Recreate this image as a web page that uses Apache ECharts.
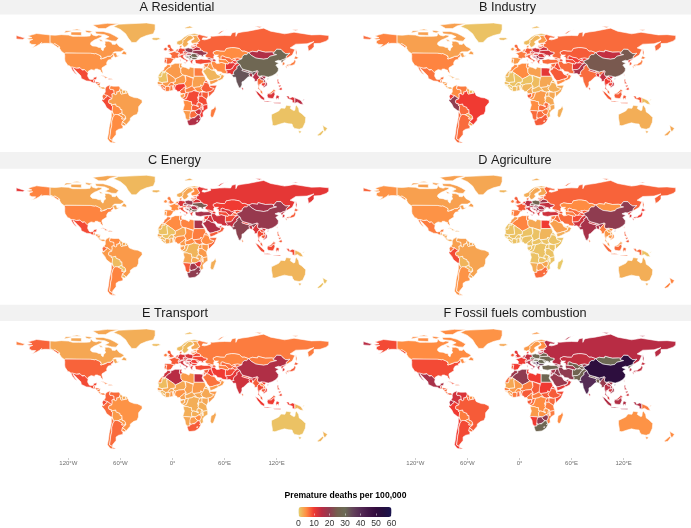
<!DOCTYPE html>
<html><head><meta charset="utf-8">
<style>html,body{margin:0;padding:0;background:#fff}#c{width:691px;height:528px}</style>
<script src="https://cdn.jsdelivr.net/npm/echarts@6/dist/echarts.min.js"></script>
</head><body><div id="c"></div>
<script>
// ---------- chart values (premature deaths per 100,000) ----------
const countries = [
 // North & Central America
 'USA','Canada','Greenland','Mexico','Guatemala','Belize','Honduras','El Salvador','Nicaragua','Costa Rica','Panama','Cuba','Haiti','Dominican Rep.','Jamaica',
 // South America
 'Colombia','Venezuela','Guyana','Suriname','French Guiana','Ecuador','Peru','Bolivia','Chile','Argentina','Paraguay','Uruguay','Brazil',
 // Western & Northern Europe
 'Iceland','Ireland','UK','Portugal','Spain','France','Belgium','Netherlands','Germany','Switzerland','Italy','Austria','Denmark','Norway','Sweden','Finland',
 // Eastern Europe
 'Czechia','Slovakia','Poland','Hungary','Slovenia','Croatia','Bosnia','Serbia','Montenegro','Albania','N. Macedonia','Greece','Bulgaria','Romania','Moldova','Ukraine','Belarus','Lithuania','Latvia','Estonia',
 // Russia & Central Asia
 'Russia','Kazakhstan','Uzbekistan','Turkmenistan','Kyrgyzstan','Tajikistan','Afghanistan','Mongolia',
 // Middle East
 'Turkey','Georgia','Armenia','Azerbaijan','Iran','Iraq','Syria','Lebanon','Israel','Jordan','Saudi Arabia','Kuwait','Yemen','Oman','UAE','Qatar',
 // South & East Asia, Oceania
 'Pakistan','India','Nepal','Bhutan','Bangladesh','Sri Lanka','China','Myanmar','Thailand','Laos','Cambodia','Vietnam','Malaysia','Indonesia','PNG','Philippines','Taiwan','N. Korea','S. Korea','Japan','Australia','New Zealand',
 // North Africa & Sahel
 'Morocco','W. Sahara','Algeria','Tunisia','Libya','Egypt','Mauritania','Mali','Niger','Chad','Sudan','S. Sudan','Eritrea','Ethiopia','Djibouti','Somalia',
 // West Africa
 'Senegal','Guinea-Bissau','Guinea','Sierra Leone','Liberia','Ivory Coast','Burkina Faso','Ghana','Togo','Benin','Nigeria',
 // Central, East & Southern Africa
 'Cameroon','CAR','Eq. Guinea','Gabon','Congo','DR Congo','Uganda','Kenya','Rwanda','Burundi','Tanzania','Angola','Zambia','Malawi','Mozambique','Zimbabwe','Namibia','Botswana','South Africa','Lesotho','Swaziland','Madagascar'
];
const residential = [
 4.5,4.2,2.2,9,10,6,8,7,6,4,3,6,8,6,6,
 7.5,5.5,3,2.5,2.5,7,9,5,5,5,4,4,3.6,
 1.5,8,8,8,7,7,7,7,9,6,9,8,5,2,2.5,3,
 13,13,20,18,14,18,26,30,24,20,26,10,28,27,20,19,14,9,9,7,
 7.5,5,7,5,8,10,11,16,
 9,18,15,12,5,4,6,6,4,4,2,2,4,3,2,2,
 11,33,22,16,18,12,28,15,7,18,10,16,6,12,15,10,6,25,6,6,1,1,
 5,1,4,4,4,6,1,4,4,5,3.5,5,8,8,6,8,
 4,6,6,8,7,6,6,6,7,7,10,
 7,6,5,4,7,9,9,8,10,10,9,5,8,9,10,13,4,7,16,12,10,6
];
const industry = [
 5.5,3.5,1,6.5,6,4,4,4,4,3.5,3,3,3,3,3,
 5,6,3,2,0.5,10,20,7,7,7,3,3.5,10,
 1.5,4,7,4,4,6,6,6,8,5,8,7,5,1.5,2,4,
 12,12,13,12,10,11,15,18,14,12,15,9,18,12,10,13,13,9,8,7,
 7,8,10,9,10,12,12,14,
 7,8,8,9,7,9,7,7,6,7,8,7,5,6,7,7,
 17,7,15,9,12,9,24,14,10,10,10,14,7,8,1.5,9,9,10,8,6,2.5,3,
 5,2,5,5,3.5,11,1,1,1,1.5,3,2.5,2.5,2.5,3,3,
 1.5,1,1,1,1,1.5,1,2,1.5,1.5,2,
 3,2,6,8,5,4,3,3,3,3,3,5,7,5,3,6,7,7,8,6,5,2.5
];
const energy = [
 5.5,3,1.8,9,6,4,5,5,4,3.5,4,7,6,6,6,
 4.5,5,3,3,2,7,4,1.5,6,5.5,1,2,4,
 2,5,6,4,5,5,6,6,12,4,9,8,5,2.5,3,5,
 18,14,19,14,10,12,22,30,20,16,22,10,25,16,14,24,12,8,8,8,
 11,10,12,9,9,8,9,17,
 17,9,9,10,13,13,10,9,8,9,16,12,8,8,12,12,
 14,21,10,8,14,6,19,12,9,9,8,13,8,9,2,8,8,14,12,8,2,1,
 6,3,5,6,5.5,17,1,1,3,5,6,6,6,5,6,7,
 3,2,2,2,2,3,2,3,3,3,5,
 4,5,4,4,3,2,4,4,3,3,4,3,3,3,3.5,12,8,18,20,16,14,2.5
];
const agriculture = [
 4.5,3.5,3,6,3,3,3,3,3,3,3,3,3,3,3,
 3.5,3.5,3,3,3,6,9,2,4.5,4.5,2,3,3.2,
 2,6,8,5,6,8,10,10,15,10,13,15,7,2.5,3,3,
 24,18,27,20,13,16,16,20,14,13,15,12,15,16,16,14,18,10,8,6,
 7.5,5,7,6,8,9,9,4.5,
 13,8,8,8,7,7,6,7,6,6,3.5,4,2.5,3,4,4,
 13,17,13,8,16,6,20,6,4,3,4,5,4,7,1,8,10,12,12,10,2.5,5.5,
 4,1,5.5,6,3,10,1,1,1,1,2,1,1,1,1,1,
 1,1,1,1,1,1,1,1,1,1,1,
 1,1,1,1,1,1,1,1,1,1,1,1,1,1,1,3,2.5,3.5,7,4,3,0.5
];
const transport = [
 7.5,3,2.5,9,8,6,7,7,6,6,6,6,6,6,6,
 7.5,7,3,3,3,9,7,4,6.5,7,4,5,4.5,
 1.5,6,8,7,8,8,9,9,12,9,13,11,7,1.5,1.5,3,
 12,12,12,13,11,12,12,11,11,11,11,11,10,10,9,9,9,6,6,5,
 6,5.5,7,6,7,8,9,6,
 9,8,8,8,10,10,8,10,9,9,6.5,7,4,4,6,6,
 11,13,9,6,10,7,16,8,9,5,8,10,8,10,2,9,9,11,11,8,1,2,
 13,5,15,12,4,14,1.5,3,3,3.5,4,3,3,3,4,4,
 4,3,2,2,2,3,3,4,4,4,4.5,
 3.5,3,3,3,3,2.5,3,3,3,3,2.5,2.5,2.5,2.5,2.5,5,3,4,8,5,5,3
];
const fossilFuels = [
 9,5,4.5,17,9,7,8,8,7,7,8,9,7,8,7,
 13,12,7,5,4,15,10,6,10,9,6,7,8,
 3,8,11,8,10,10,13,13,14,12,15,16,10,4,4,5,
 28,25,28,30,25,30,38,42,35,30,35,18,35,30,28,28,27,15,15,12,
 15,14,26,18,19,25,27,29,
 28,18,18,20,20,20,17,18,16,17,19,18,11,12,15,15,
 27,40,24,16,26,14,52,19,15,15,13,18,12,16,6,13,14,30,15,14,4.5,5,
 18,7,20,10,10,28,3,4,6,8,10,8,9,8,9,9,
 6,5,4,4,4,6,5,7,7,6,8,
 6,6,6,8,7,5,7,7,7,7,6,4,4.5,5,6,20,10,20,28,22,20,5
];
const panelTitles = ['A Residential','B Industry','C Energy','D Agriculture','E Transport','F Fossil fuels combustion'];
const panelValues = [residential,industry,energy,agriculture,transport,fossilFuels];
const legendTitle = 'Premature deaths per 100,000';
const legendTicks = [0,10,20,30,40,50,60];
const lonTicks = [-120,-60,0,60,120];
const lonTickLabels = ['120°W','60°W','0°','60°E','120°E'];

// ---------- base map outlines (simplified, lon,lat) ----------
const shapes = {
'USA':'-124.7,48.4;-123,49;-95.2,49;-94.6,48.7;-92,48.3;-89.6,48;-88.4,48.3;-84.9,46.9;-84.5,46.4;-83.5,46;-82.5,45.3;-82.1,43.6;-82.5,42.6;-83.1,42.2;-82.4,41.7;-79,42.8;-79,43.3;-76.8,43.6;-76.3,44.2;-75,45;-71.5,45;-70.8,45.4;-70,46.7;-69.2,47.45;-68.2,47.35;-67.8,45.7;-67,44.9;-69,44;-70.7,43;-70.7,41.9;-70,41.7;-71.5,41.4;-74,40.7;-74.2,39.6;-75.5,38.5;-75.9,37.1;-76,36.9;-75.5,35.3;-77.9,33.9;-79.3,33;-81,32;-81.4,30.5;-80.2,26.8;-80.3,25.3;-81.2,25.2;-82.7,27.7;-82.9,29;-84,30;-85.3,29.7;-86.5,30.4;-89,30.4;-89.2,29.1;-90.8,29.1;-93.8,29.7;-95,29;-97.2,27.7;-97.2,25.9;-99.1,26.4;-99.5,27.5;-101.4,29.8;-102.7,29.7;-103.2,29;-104.5,29.6;-106.5,31.8;-108.2,31.8;-108.2,31.3;-111,31.3;-114.8,32.5;-117.1,32.5;-118.4,34;-120.6,34.5;-122.4,37.2;-123.8,39.3;-124.4,40.4;-124.2,42;-124.1,46.2|-141,69.6;-141,60.3;-139,60;-137.5,58.9;-135.5,59.7;-133.4,58.4;-130,56;-130,55;-132,55;-134,56.5;-136.5,58;-139.9,59.7;-144,60;-148,60;-151.8,59.2;-150.6,61;-153,59;-156.5,57;-160,55.5;-163,54.7;-160,56;-157.5,58.6;-162,58.7;-165,60.5;-164.7,63;-161,64.5;-165,64.5;-168,65.6;-162,66.5;-166.5,68.3;-163,69.5;-156.5,71.3;-149,70.5',
'Canada':'-141,69.6;-135,69.3;-128,70;-120,69.5;-115,68;-108,68;-100,68;-95,68.5;-94,71.8;-92,69.5;-88,68.5;-85,69.5;-81.5,69;-81.5,67.5;-87,65;-90,63.8;-94,61;-94.5,59;-92.5,57;-88,56.5;-85,55.3;-82.3,55.1;-82,53;-80,51.3;-79,51.5;-79,54.7;-77,56;-78,58.7;-77.5,60;-78,62.4;-73.5,62.3;-70,61;-69.5,59;-66,58.7;-64.5,60.3;-61.5,56.5;-57.5,54.5;-55.7,52.5;-60,50.2;-66.5,50.2;-69,48.5;-65,49.2;-64.5,48;-65,47;-64,46;-61,46;-60,46.8;-63.5,44.6;-66,43.7;-66,44.8;-67,44.9;-67.8,45.7;-68.2,47.35;-69.2,47.45;-70,46.7;-70.8,45.4;-71.5,45;-75,45;-76.3,44.2;-76.8,43.6;-79,43.3;-79,42.8;-82.4,41.7;-83.1,42.2;-82.5,42.6;-82.1,43.6;-82.5,45.3;-83.5,46;-84.5,46.4;-84.9,46.9;-88.4,48.3;-89.6,48;-92,48.3;-94.6,48.7;-95.2,49;-123,49;-124.7,48.4;-128,50.8;-130,54;-130,55;-130,56;-133.4,58.4;-135.5,59.7;-137.5,58.9;-139,60;-141,60.3|-62,66;-65,62.5;-70,62.8;-78,65;-73,67.5;-78,70;-88,71;-89,73.7;-80,73.7;-72,71.5;-67,69|-105,69;-117,69.5;-117,73;-105,73|-117,73.5;-125,72;-123,74.5;-116,74.5|-62,82.5;-75,83;-92,81;-85,77;-77,77;-72,80|-59,47.6;-53,46.7;-53,49;-56,51.5;-58,49|-96,72;-92,74;-100,75;-100,73|-105,75;-117,75;-110,76.5|-80,62.5;-83,62.5;-85,65;-82,64',
'Greenland':'-68,79.5;-60,76;-54,71;-51,66;-47,61;-42,61;-37,66;-30,69;-22,71;-20,76;-20,82;-30,83.5;-50,82.5;-62,82',
'Mexico':'-117.1,32.5;-114.8,32.5;-111,31.3;-108.2,31.3;-108.2,31.8;-106.5,31.8;-104.5,29.6;-103.2,29;-102.7,29.7;-101.4,29.8;-99.5,27.5;-99.1,26.4;-97.2,25.9;-97.8,22.3;-95.9,18.8;-94.5,18.2;-91.5,18.6;-90.5,20.8;-87,21.5;-87.5,19;-88.3,18.5;-89.1,17.9;-91,17.8;-90.5,16;-92.2,14.6;-94.5,16.2;-99,16.7;-105,19.5;-105.6,22.5;-109.4,26.5;-112.5,29.5;-114.7,31.5;-113,28;-110,24;-109.5,23;-112,25;-115,28.5',
'Guatemala':'-92.2,14.6;-90.5,16;-91,17.8;-89.1,17.9;-89.2,15.9;-88.2,15.7;-89.3,14.4;-90.1,13.8',
'Belize':'-89.1,17.9;-88.3,18.5;-88.2,16;-89.2,15.9',
'Honduras':'-89.3,14.4;-88.2,15.7;-83.2,15;-84.7,14;-87.3,13;-87.8,13.4',
'El Salvador':'-90.1,13.8;-89.3,14.4;-87.8,13.4;-88.5,13.2',
'Nicaragua':'-87.3,13;-84.7,14;-83.2,15;-83.7,11;-85.7,11.1',
'Costa Rica':'-85.7,11.1;-83.7,11;-82.6,9.6;-83,8.3;-85,10',
'Panama':'-83,8.3;-82.6,9.6;-79.5,9.6;-77.3,8.6;-78,7.3;-80.4,7.3;-81.5,8',
'Cuba':'-84.9,21.9;-80,23;-74.2,20.2;-77.7,19.9;-78.5,21.5;-82,22.6',
'Haiti':'-74.4,18.4;-72.7,20;-71.7,19.8;-71.7,18.1',
'Dominican Rep.':'-71.7,19.8;-68.4,18.6;-71.7,18.1',
'Jamaica':'-78.3,18.3;-76.3,18;-77,18.5',
'Colombia':'-77.3,8.6;-75.6,10.6;-72,12.2;-71.3,11.1;-72.5,8.5;-71.9,7;-70,6.9;-67.5,6.2;-67.3,3.5;-67.8,2;-69.8,1.7;-69.4,-1;-70,-4.2;-72,-2.4;-75,-0.1;-77.5,0.4;-79,1.6;-77.4,4;-77.5,7;-77.9,7.2',
'Venezuela':'-71.3,11.1;-72,12.2;-68.2,10.6;-64,10.6;-62,10.7;-60,8.5;-60.6,6.8;-61.3,5.6;-60.7,5.2;-62.7,4;-64.2,4.1;-64,1.9;-65.5,0.8;-66.9,1.2;-67.8,2;-67.3,3.5;-67.5,6.2;-70,6.9;-71.9,7;-72.5,8.5',
'Guyana':'-60,8.5;-57.2,6;-58,4;-56.5,1.9;-59,1.3;-59.9,2.5;-59.9,4;-60.7,5.2;-61.3,5.6;-60.6,6.8',
'Suriname':'-57.2,6;-54,5.8;-54.4,2.3;-56.5,1.9;-58,4',
'French Guiana':'-54,5.8;-51.7,4.2;-52.6,2.5;-54.4,2.3',
'Ecuador':'-79,1.6;-77.5,0.4;-75,-0.1;-75.5,-1.5;-78.2,-3.4;-79,-5;-80.3,-3.4;-81,-1;-80,0.8',
'Peru':'-75,-0.1;-72,-2.4;-70,-4.2;-73,-5;-73.7,-7.3;-72.9,-9.2;-70.5,-9.4;-70.6,-11;-69,-12.7;-69,-16.5;-69.5,-17.5;-70.4,-18.3;-76,-14;-78,-10;-81.3,-6;-81,-4.5;-80.3,-3.4;-79,-5;-78.2,-3.4;-75.5,-1.5',
'Bolivia':'-69,-12.7;-70.6,-11;-65.4,-9.8;-65,-12;-60.5,-13.8;-60,-16.3;-58.3,-16.3;-58,-20;-62.6,-22.2;-64.5,-22;-66,-22;-67.2,-22.8;-68.2,-21.5;-69.5,-17.5;-69,-16.5',
'Chile':'-70.4,-18.3;-69.5,-17.5;-68.2,-21.5;-67.2,-22.8;-68.5,-25;-70,-30;-70,-35;-71.2,-40;-71.7,-45;-72.5,-50;-69,-52;-68.5,-54.8;-67,-55.5;-72,-54;-75,-50;-73.5,-42;-73,-37;-71.5,-30;-70.5,-25',
'Argentina':'-67.2,-22.8;-66,-22;-64.5,-22;-62.6,-22.2;-57.7,-25;-58.5,-27.2;-54.6,-27;-53.7,-27;-57.6,-30.2;-58.4,-34;-57,-36;-57.5,-38;-62,-39;-65,-41;-65,-45;-69,-50;-69,-52;-72.5,-50;-71.7,-45;-71.2,-40;-70,-35;-70,-30;-68.5,-25|-68.5,-52.7;-65,-54.8;-68.5,-54.8',
'Paraguay':'-62.6,-22.2;-58,-20;-57.8,-22;-55.7,-22.2;-54.3,-24;-54.6,-27;-58.5,-27.2;-57.7,-25',
'Uruguay':'-57.6,-30.2;-53.5,-33.7;-53.2,-33.8;-54.9,-35;-58.4,-34',
'Brazil':'-51.7,4.2;-50,0;-48,-1;-44,-2.5;-40,-2.9;-35.2,-5.3;-34.9,-8;-39,-13;-39.2,-18;-41,-22;-44.5,-23;-48.5,-26;-48.7,-28.5;-53.2,-33.8;-53.5,-33.7;-57.6,-30.2;-53.7,-27;-54.6,-27;-54.3,-24;-55.7,-22.2;-57.8,-22;-58,-20;-58.3,-16.3;-60,-16.3;-60.5,-13.8;-65,-12;-65.4,-9.8;-70.6,-11;-70.5,-9.4;-72.9,-9.2;-73.7,-7.3;-73,-5;-70,-4.2;-69.4,-1;-69.8,1.7;-67.8,2;-66.9,1.2;-65.5,0.8;-64,1.9;-64.2,4.1;-62.7,4;-60.7,5.2;-59.9,4;-59.9,2.5;-59,1.3;-56.5,1.9;-54.4,2.3;-52.6,2.5',
'Iceland':'-24,65.5;-22,66.4;-16,66.4;-13.6,65;-18.5,63.4;-22.5,63.9',
'Ireland':'-10,52;-10,54;-8,55.3;-6.2,54.5;-6,52.2;-8,51.5',
'UK':'-5.6,50.1;-1,50.7;1.4,51.2;1.7,52.7;0,53.5;-1.5,55;-2,56;-2,57.6;-3.2,58.6;-5,58.6;-6.2,57;-5,55;-3,54;-3,53.4;-4.5,53;-5,51.7;-3,51.4',
'Portugal':'-9,42;-6.5,42;-6.5,41.5;-7,39.6;-7.4,37.2;-9,37;-9.5,38.7',
'Spain':'-9.2,43.2;-9,42;-6.5,42;-6.5,41.5;-7,39.6;-7.4,37.2;-5.6,36;-2,36.8;-0.3,39;0.8,41;3.2,41.9;0,42.7;-1.8,43.4;-8,43.7',
'France':'-1.8,43.4;0,42.7;3.2,41.9;3.2,43.2;6.2,43;7.5,43.8;7,45.9;6,46.3;7.5,47.6;8.2,49;6.2,49.5;4,50;2.5,51;1.6,50.2;-1.2,49.4;-1.6,48.7;-4.7,48.5;-2.5,47.3;-1.2,46|8.6,42.9;9.5,42.9;9.3,41.4;8.7,41.6',
'Belgium':'2.5,51;4,50;6.2,49.5;6,50.8;4,51.4',
'Netherlands':'3.5,51.4;6,50.8;7,52.2;7,53.4;5,53.3;4,52',
'Germany':'6,50.8;6.2,49.5;8.2,49;7.5,47.6;10,47.4;13,47.6;13.7,48.7;12.2,50.3;15,51;14.3,53.9;11,54;9.5,54.8;8.6,54.9;8.7,53.8;7,53.4;7,52.2',
'Switzerland':'6,46.3;7,45.9;9,46;10.4,46.7;10,47.4;7.5,47.6',
'Italy':'7,45.9;7.5,43.8;8.8,44.4;10.3,43;12.3,41.7;15.7,40;15.6,38;17,39;16.5,40;18.4,40;16,41.5;14,42.5;12.4,44.3;12.4,45.5;13.7,45.7;13.7,46.5;12,47;10.4,46.7;9,46|12.5,38;15.5,38.2;15,36.7|8.3,41;9.7,41;9.6,39;8.5,39',
'Austria':'10,47.4;10.4,46.7;12,47;13.7,46.5;16.1,46.8;17,48;16.9,48.7;15,49;13.7,48.7;13,47.6',
'Denmark':'8.1,55.5;8.6,54.9;9.5,54.8;10.8,56;10.6,57.7;8.2,57|11,55.7;12.5,56;12.5,55',
'Norway':'5,59;5,62;10,64;14,67.5;18,70;25,71.2;31,70.2;29,69.2;25.7,69;21,69.2;18,68.6;15,66;14,64.5;12,63.5;12.2,61;11,59;8,58|14,78;20,80;24,78;15,77',
'Sweden':'11,59;12.2,61;12,63.5;14,64.5;15,66;18,68.6;21,69.2;23.7,67.9;24,65.8;21,64;17.5,62;17.5,60.5;18.8,59.7;16.5,57;14.3,55.5;13,55.5;11.5,58',
'Finland':'23.7,67.9;21,69.2;25.7,69;29,69.2;28.5,68;30,65.7;31.5,63;27.8,60.5;23,59.9;21.4,61;21.5,63;25,65;24,65.8',
'Czechia':'12.2,50.3;13.7,48.7;15,49;16.9,48.7;18.8,49.5;15,51',
'Slovakia':'16.9,48.7;17,48;18.8,47.8;22.2,48.4;22.5,49.1;18.8,49.5',
'Poland':'14.3,53.9;15,51;18.8,49.5;22.5,49.1;24,50.5;23.6,51.5;23.5,53.9;19.5,54.4;18.3,54.8',
'Hungary':'16.1,46.8;18.8,45.9;21,46.2;22.9,48;22.2,48.4;18.8,47.8;17,48',
'Slovenia':'13.7,46.5;13.7,45.7;15.4,45.6;16.1,46.4;16.1,46.8',
'Croatia':'14,45.3;15.4,45.6;16.1,46.4;18.8,45.9;19,45;16,45.2;15.8,44.2;17.6,43;18.5,42.5;16,43.5;14.8,45',
'Bosnia':'16,45.2;19,45;19.5,44;18.5,42.5;17.6,43;15.8,44.2',
'Serbia':'19,45;18.8,45.9;21,46.2;22.5,44.5;23,43;22.4,42.3;20.5,42.3;19.5,44',
'Montenegro':'18.5,42.5;19.5,44;20.5,42.8;19.3,41.9',
'Albania':'19.3,41.9;20.5,42.5;20.8,41;20.9,40;20,39.7;19.4,40.5',
'N. Macedonia':'20.5,42.3;22.4,42.3;23,41.3;20.9,41',
'Greece':'20,39.7;20.9,40;23,41.3;26.3,41.5;24,40.7;23,40;22.9,39;24,38;23,36.5;21.7,36.8;21,38.3|23.6,35.5;26.3,35.2;24.5,35',
'Bulgaria':'22.4,42.3;23,43;22.5,44.2;25,43.7;28.5,43.7;27.9,42;26.3,41.5;23,41.3',
'Romania':'21,46.2;22.9,48;26.6,48.2;28.2,46;29.7,45.2;28.5,43.7;25,43.7;22.5,44.2',
'Moldova':'26.6,48.2;29,47.8;30,46.5;28.2,45.5;28.2,46',
'Ukraine':'22.5,49.1;22.2,48.4;22.9,48;26.6,48.2;29,47.8;30,46.5;28.2,45.5;29.7,45.2;31,46.6;33.5,46;32.5,45.4;33.5,44.5;36.5,45.2;35,46.2;38.2,47.1;40,48;40,49.6;38,50;35.5,50.4;34,52.3;31.8,52.1;23.6,51.5;24,50.5',
'Belarus':'23.6,51.5;31.8,52.1;31,53;32.7,53.5;31,55;28,56;26.5,55.6;25,54.3;23.5,53.9',
'Lithuania':'21,55.2;21,56;25,56.3;26.5,55.6;25,54.3;23.5,53.9;22.8,54.4',
'Latvia':'21,56;21.6,57.5;24.4,57.2;24.4,58;27.6,57.5;28,56;26.5,55.6;25,56.3',
'Estonia':'23.5,59.2;28,59.5;27.6,57.5;24.4,58',
'Russia':'28,59.5;30,60;27.8,60.5;31.5,63;30,65.7;28.5,68;29,69.2;31,70.2;33,69.5;41,67.5;40,66;35,66.5;34,64.5;37,64;40,64.7;44,66;44,68.5;46,68;54,68.8;60,69;67,68.8;68.5,72;73,73;73,68;75,72;80,73;87,74;100,76.5;105,77.5;113,74;129,71;133,71.5;140,72.8;160,69.7;170,70;180,69;180,65;177,62.5;170,60;163,59.7;163,56;160,53;156.7,51;155.7,57;163,62;155,59.5;142,59;135.5,54.7;141,53;138,46.5;132,43;130.7,42.3;131,45;135,48.5;130.5,48;127.5,50;125,53;120,53.2;117,49.6;114,50;107,49.8;102,51;98.5,52;98,50;92,50.8;87.8,49.2;83,51;80,51;77,54;71,55;68,55;62,54;61,52;60,50.8;55,51;51,51.7;47,50;47,48.2;49,46.5;47.6,45.6;47.7,41.8;48.6,41.8;46,42;43,43;40,43.4;37.5,45;38,46;38.2,47.1;40,48;40,49.6;38,50;35.5,50.4;34,52.3;31.8,52.1;31,53;32.7,53.5;31,55;28,56;27.6,57.5|-180,69;-170,66;-172.5,64.5;-180,65|142,54;143.5,50;143,46;142,48|52,71;56,74;68,77;60,75;54,71|95,80;103,79;100,78|138,75.5;145,75.5;142,74.5',
'Kazakhstan':'47,48.2;47,50;51,51.7;55,51;60,50.8;61,52;62,54;68,55;71,55;77,54;80,51;83,51;87.8,49.2;85.5,47;83,47;80.5,45;80,42.2;75,43;71,42.5;68,41;66,43;61,44;58,45.5;56,45;56,41.3;53,42;53,44;50.5,44.5;53,46.5;49,46.5',
'Uzbekistan':'56,45;58,45.5;61,44;66,43;68,41;71,42.5;73,40.8;70,40.2;68.5,38.5;67.5,37.2;65,37.5;61.5,41;56,41.3',
'Turkmenistan':'53,42;56,41.3;61.5,41;65,37.5;64,36;61,36.6;56,38;54,37;53,40',
'Kyrgyzstan':'71,42.5;75,43;80,42.2;74,39.5;70,40.2;73,40.8',
'Tajikistan':'68.5,38.5;70,40.2;74,39.5;75,37.3;71.5,36.8;70,37.7;67.5,37.2',
'Afghanistan':'61,36.6;64,36;65,37.5;67.5,37.2;70,37.7;71.5,36.8;74.9,37.3;71.5,35;70,33;69,31;66.5,29.8;61,29.5;60.8,31.5;61,34',
'Mongolia':'87.8,49.2;91,46;96,43;105,41.7;110,42.7;112,45;116,46;120,47;116,48;117,49.6;114,50;107,49.8;102,51;98.5,52;98,50;92,50.8',
'Turkey':'26.3,41.5;26,40;26.5,38;27.5,36.7;30.5,36.3;32.5,36;36,36.7;36.5,36.3;42,37.2;44.8,37.2;44.8,39.7;43.5,41.1;41.5,41.5;36,41.3;33,42;29,41.2;28,42',
'Georgia':'40,43.4;43,43;46.5,41.5;43.5,41.1;41.5,41.5',
'Armenia':'43.5,41.1;45.5,41;46.5,39;44.8,39.7',
'Azerbaijan':'46,42;48.6,41.8;50,40.3;49,38.4;48,39.5;46.5,39;45.5,41;46.5,41.5',
'Iran':'44.8,39.7;46.5,39;48,39.5;49,38.4;51,36.7;54,37;56,38;61,36.6;61,34;60.8,31.5;61,29.5;63.3,27;61.6,25;57,25.7;56.5,27;52,27.5;50,30;48,30.2;46,33;45,36;44.8,37.2',
'Iraq':'42,37.2;44.8,37.2;45,36;46,33;48,30.2;47.8,29.7;46.5,29.1;44.7,29.2;42,31.2;39,32.2;41.2,34.7',
'Syria':'36,35.9;36,36.7;42,37.2;41.2,34.7;39,32.2;36,33;36.5,34.4',
'Lebanon':'35.1,33.1;36,34.6;36.5,34.4;35.7,33.2',
'Israel':'34.3,31.3;35.1,33.1;35.7,33.2;35,29.5',
'Jordan':'35.7,33.2;36,33;39,32.2;37,31;38,30;36,29.2;35,29.5',
'Saudi Arabia':'35,28;36,29.2;38,30;37,31;39,32.2;42,31.2;44.7,29.2;46.5,29.1;48.4,28.5;50,26.5;50.8,24.8;51.6,24.2;55.2,22.7;55.7,22;55,20;52,19;48.8,18.2;46.4,17.3;43.2,16.7;42.6,16.5;40,20;38.5,23;37,25',
'Kuwait':'46.5,29.1;47.8,29.9;48.4,28.5',
'Yemen':'42.6,16.5;43.2,16.7;46.4,17.3;48.8,18.2;52,19;53,16.6;48,14;45,12.8;43.5,12.7',
'Oman':'52,19;55,20;55.7,22;55.2,22.7;56.4,24.5;56.9,24;59.8,22.5;57.8,19;53,16.6',
'UAE':'51.6,24.2;54,24;56.3,26;56.4,24.5;55.2,22.7',
'Qatar':'50.8,24.8;51.3,26;51.6,24.7',
'Pakistan':'61,29.5;66.5,29.8;69,31;70,33;71.5,35;74.9,37.3;77.8,35.5;74,33;74.5,31;71,28;70,25.5;71,24.2;68,23.7;66.5,25.3;61.6,25;63.3,27',
'India':'74,33;77.8,35.5;79,32.5;81,30.2;80,28.7;84,27.4;88,26.4;88,28;89,27;92,27;97,28.3;97,27;94,24;93,22;92.2,23.5;91,24;92,25;89,26;88.2,24.5;89,21.8;87,21.3;82,16.5;80,15.5;80,12;78,8.2;76.5,9;73.5,16;72.7,21;70,20.8;69,22.5;68,23.7;71,24.2;70,25.5;71,28;74.5,31',
'Nepal':'80,28.7;81,30.2;88,28;88,26.4;84,27.4',
'Bhutan':'89,27;92,27;89,28',
'Bangladesh':'88.2,24.5;89,26;92,25;91,24;92.2,23.5;92.3,21;89,21.8',
'Sri Lanka':'80,9.7;81.8,7.5;80.5,6;79.8,8',
'China':'74,39.5;80,42.2;80.5,45;83,47;85.5,47;87.8,49.2;91,46;96,43;105,41.7;110,42.7;112,45;116,46;120,47;116,48;117,49.6;120,53.2;125,53;127.5,50;130.5,48;135,48.5;131,45;130.7,42.3;128,41.5;124.4,40;122,40.5;118,39;122.5,37;119,35;122,31;121.7,28;119,25;115,22.7;110.5,21.2;108,21.5;106.7,22;102,22.4;101,21.5;99,22;97.7,24;98.5,28;97,28.3;92,27;89,28;88,28;81,30.2;79,32.5;77.8,35.5;74.9,37.3;75,37.3|108.7,19;111,20;110,18.3',
'Myanmar':'92.2,23.5;93,22;94,24;97,27;97,28.3;98.5,28;97.7,24;99,22;101,21.5;100,20.3;97.7,18;98.9,15;98.2,14;99,10.5;98,13;97.5,16.5;94.5,16;94.5,18.5;92.3,21',
'Thailand':'100,20.3;101,19.5;102,18;104.8,17.8;105.5,14.5;102.5,14;102.5,12;100.8,13.3;100,13;99.5,9.5;100.5,7.2;102,6.2;100.8,5.8;98.3,8;99,10.5;98.2,14;98.9,15;97.7,18',
'Laos':'101,21.5;102,22.4;104,20.5;107,17;107.5,15;105.5,14.5;104.8,17.8;102,18;101,19.5;100,20.3',
'Cambodia':'102.5,14;105.5,14.5;107.5,15;106.5,11;104.5,10.5;102.5,12',
'Vietnam':'102,22.4;106.7,22;108,21.5;105.8,19;109,14;109,11.5;105,8.7;104.5,10.5;106.5,11;107.5,15;107,17;104,20.5',
'Malaysia':'100.8,5.8;102,6.2;103.4,4.5;104.3,1.4;101.5,2.8|109.6,2;113,3.2;115,5;116.8,7;119,5;117.5,4.2;115.5,3.5;114,1.5;110,1',
'Indonesia':'95.3,5.6;98.5,4;103.5,-1;106,-3;105.8,-5.9;102,-4;98,1|105.3,-6.8;110,-6.5;114.5,-7.7;114.4,-8.7;106,-7.5|109.6,2;110,1;114,1.5;115.5,3.5;117.5,4.2;118,1;116,-3.5;114,-3.5;110,-3;109,-0.5|119.5,0;125,1.5;121,0.5;123,-1;122,-5;120.5,-3;120,-5.5;119,-3|131,-0.8;134,-0.8;135,-3.3;138,-1.7;141,-2.6;141,-9.1;138,-8;138,-5.5;133,-4;132.5,-2.8|116,-8.3;125,-8.3;124,-9.5;117,-9',
'PNG':'141,-2.6;145,-4.5;148,-6;150.8,-10.4;147,-10;144,-7.8;141,-9.1|149,-6;152.5,-4.2;151,-5.7',
'Philippines':'120.5,18.5;122.2,18.5;122,16;124,13;121,13.7|122,7;125.5,9.5;126.5,7;125,5.8|122,11.5;125,12;125,10.5;122.9,9.5',
'Taiwan':'121,25;122,24.5;120.8,22;120.1,23.5',
'N. Korea':'124.4,40;128,41.5;130.7,42.3;129.7,41;127.5,39.7;128.3,38.6;126.7,37.8;125,38;125.2,39.5',
'S. Korea':'126.7,37.8;128.3,38.6;129.4,37;129,35.2;126.5,34.4',
'Japan':'130.9,34;132,35.5;136,36;137,37.3;139.5,38.5;140.3,41;141.5,40.5;142,39;140.8,36;139,35;136.5,34.3;135,34.5;132,33.8|140,42;141.5,45.4;145.3,43.5;143,42|130,33.5;132,33.5;131.3,31;130.3,31.2|132.5,33.8;134.5,34.2;134,33.3;133,32.8',
'Australia':'114,-22;114,-26;115,-31.5;115,-34.5;118,-35;124,-33;129,-31.6;134,-32.7;137.7,-33;138.5,-35.5;140.5,-38;146,-39;150,-37.5;153,-31;153.5,-25.5;149,-21;146,-19;145.3,-15;142.7,-11;141.5,-13;141,-17;139.5,-17.5;135.7,-15;136.7,-12.2;131,-11.3;129.5,-14.9;125,-14.5;122.3,-18;117,-20.5|145,-40.8;148.3,-40.9;148,-43;146,-43.5',
'New Zealand':'173,-34.5;178.5,-37.7;176.5,-41;175,-41.5;174,-39.5|172.7,-40.5;174.2,-41.7;171,-45.9;168,-46.6;166.5,-46;171,-42',
'Morocco':'-5.9,35.8;-2.2,35;-1.7,33;-4,32;-7,29.5;-8.7,27.7;-13,27.7;-10,29.5;-9.5,32;-6.8,34',
'W. Sahara':'-13,27.7;-8.7,27.7;-8.7,26;-12,26;-12,23.4;-13,21.3;-17,21.3;-16,23.5',
'Algeria':'-2.2,35;-1,35.2;3,36.9;8.6,36.9;8,33;9.5,30.2;9.8,26;11.9,23.5;7.5,20.9;3.3,19;1,21;-4.8,25;-8.7,27.7;-7,29.5;-4,32;-1.7,33',
'Tunisia':'8.6,36.9;11,37;10.2,34;11.5,33;10,30.8;9.5,30.2;8,33',
'Libya':'11.5,33;15,32.2;19,30.3;20,32.7;25,31.7;25,20;24,20;24,19.5;15,23;14.2,22.6;11.9,23.5;9.8,26;9.5,30.2;10,30.8',
'Egypt':'25,31.7;31,31.5;34.3,31.3;35,29.5;34,27;36.9,22;25,22',
'Mauritania':'-17,21.3;-13,21.3;-12,23.4;-12,26;-8.7,26;-8.7,27.7;-4.8,25;-6.5,25;-5.5,15.5;-11,15;-12.2,14.7;-16.5,16;-16,19',
'Mali':'-12.2,14.7;-11.3,12.2;-8,10.3;-5.5,10.4;-4.5,12;-2,14.8;0,15;1,15;3.3,15.5;3.3,19;1,21;-4.8,25;-6.5,25;-5.5,15.5;-11,15',
'Niger':'3.3,19;7.5,20.9;11.9,23.5;14.2,22.6;15,23;15.5,16.9;13.6,13.7;11,13.4;7,13;4,12;3.6,11.7;2.4,12.2;1,13;1,15;3.3,15.5',
'Chad':'15,23;24,19.5;24,15.7;23,15.7;22.8,11;19,9;15.5,7.5;15.5,10;14,12.5;13.6,13.7;15.5,16.9',
'Sudan':'25,22;36.9,22;38.5,18;36.5,15;36,12.7;34.3,10.5;32.7,12.2;32,10;24,9;22.8,11;23,15.7;24,15.7;24,19.5;25,20',
'S. Sudan':'24,9;32,10;32.7,12.2;34.3,10.5;33,7.8;35,5;34,4;31,3.7;28,4.5;27.4,5.2',
'Eritrea':'38.5,18;43,12.7;42.4,12.5;40,14.5;36.5,15',
'Ethiopia':'36,12.7;36.5,15;40,14.5;42.4,12.5;42.9,11;43.3,9.4;48,8;45,5;42,4;39,3.5;35,5;33,7.8;34.3,10.5',
'Djibouti':'42.4,12.5;43.3,12;42.9,11',
'Somalia':'43,11.4;51.2,11.8;48,4.5;42,-1.6;41,-1;41,3.9;42,4;45,5;48,8;43.3,9.4',
'Senegal':'-17.5,14.7;-16.5,16;-12.2,14.7;-11.3,12.4;-16.7,12.4;-16,13.5',
'Guinea-Bissau':'-16.7,12.4;-13.7,12.4;-13.7,11;-15.5,11',
'Guinea':'-15.5,11;-13.7,11;-13.7,12.4;-11.3,12.4;-8,10.3;-8.5,7.5;-10,8.5;-12.5,9.5;-13.3,9.5',
'Sierra Leone':'-13.3,9;-11,10;-10.3,8.5;-11.5,7',
'Liberia':'-11.5,7;-10.3,8.5;-8.5,7.5;-7.5,4.4',
'Ivory Coast':'-8.5,7.5;-7.5,4.4;-3,5;-3.2,6;-2.8,8;-2.8,9.9;-5.5,10.4;-8,10.3',
'Burkina Faso':'-5.5,10.4;-2.8,9.9;-2.8,11;0,11;1,11;2.4,12.2;1,13;0,15;-2,14.8;-4.5,12',
'Ghana':'-3,5;0.9,6;0.5,8;0,11;-2.8,11;-2.8,8;-3.2,6',
'Togo':'0.9,6;1.7,6.2;1.5,9;1,11;0,11;0.5,8',
'Benin':'1.7,6.2;2.7,6.4;2.8,9;3.6,11.7;2.4,12.2;1,11;1.5,9',
'Nigeria':'2.7,6.4;2.8,9;3.6,11.7;4,12;7,13;11,13.4;13.6,13.7;14,12.5;15.5,10;13,9;11.5,7;10,6.5;9,6;8.5,4.5;6,4.3;4.4,6.3',
'Cameroon':'8.5,4.5;9.5,2.2;11.3,2.2;13.3,2.2;16,1.8;15,4;14.5,7;15.5,10;13,9;11.5,7;10,6.5;9,6',
'CAR':'14.5,7;15,4;16.5,3.4;18.5,3.5;22,4.2;24.5,5.5;27.4,5.2;24,9;22.8,11;19,9;15.5,7.5',
'Eq. Guinea':'9.5,2.2;11.3,2.2;11.3,1;9.5,1',
'Gabon':'9,1;11.3,1;11.3,2.2;13.3,2.2;14,2;14.4,-1;12,-2.5;11.2,-4;9,-1',
'Congo':'11.2,-4;12,-2.5;14.4,-1;14,2;16.5,3.4;18.5,3.5;17.5,0;16,-3.5;14,-4.5;13,-5',
'DR Congo':'12.3,-6;13,-5;14,-4.5;16,-3.5;17.5,0;18.5,3.5;22,4.2;24.5,5.5;28,4.5;31,3.7;31,2.5;30,1;30,-1;29,-1.5;29,-2.7;29.5,-4.4;29.5,-6;31,-8.5;28.7,-8.5;28,-12;29.8,-12;29.8,-13.4;27,-11.8;24,-11;22,-11;22,-9.5;21.8,-7.3;19.5,-7;17,-6;13,-6',
'Uganda':'31,3.7;34,4;34,1;34,-1;30,-1;30,1;31,2.5',
'Kenya':'34,4;35,5;39,3.5;41,3.9;41,-1;42,-1.6;39.2,-4.7;34,-1;34,1',
'Rwanda':'29,-1.5;30,-1;30.5,-2.3;29,-2.7',
'Burundi':'29,-2.7;30.5,-2.3;30.5,-3.5;29.5,-4.4',
'Tanzania':'30,-1;34,-1;39.2,-4.7;39.5,-7;40.4,-10.5;35,-11.5;34,-9.5;31,-8.5;29.5,-6;30.5,-3',
'Angola':'12.3,-6;13,-6;17,-6;19.5,-7;21.8,-7.3;22,-9.5;22,-11;24,-11;22,-13;22,-16;23.4,-17.6;20.8,-18;14,-17.4;11.8,-17.3;13.7,-11;13,-9',
'Zambia':'22,-13;24,-11;27,-11.8;29.8,-13.4;29.8,-12;28,-12;28.7,-8.5;31,-8.5;34,-9.5;33,-12;33.2,-14;30.2,-15.7;28,-17;25.3,-17.8;23.4,-17.6;22,-16',
'Malawi':'34,-9.5;35,-11.5;34.5,-13.5;35.5,-14.5;35.2,-17;33.2,-14;33,-12',
'Mozambique':'40.4,-10.5;40.7,-15;37,-17.5;35,-20;35.5,-24;32.8,-26;32,-25;31.3,-22.4;33,-19;32.8,-16;30.2,-15.7;33.2,-14;35.2,-17;35.5,-14.5;34.5,-13.5;35,-11.5',
'Zimbabwe':'25.3,-17.8;28,-17;30.2,-15.7;32.8,-16;33,-19;31.3,-22.4;29.3,-22.2;27,-20.5',
'Namibia':'11.8,-17.3;14,-17.4;20.8,-18;23.4,-17.6;25.3,-17.8;21,-18.5;21,-22;20,-22;20,-28.4;17,-28.5;15,-26;14.4,-22',
'Botswana':'21,-18.5;25.3,-17.8;27,-20.5;29.3,-22.2;26.5,-24.7;25.5,-25.7;22.7,-26;20.8,-26.8;20,-24.7;20,-22;21,-22',
'South Africa':'17,-28.5;20,-28.4;20,-24.7;20.8,-26.8;22.7,-26;25.5,-25.7;26.5,-24.7;29.3,-22.2;31.3,-22.4;32,-25;32.8,-26;32.8,-27;30.5,-31;26,-34;20,-34.8;18.3,-34;17,-30',
'Lesotho':'27.5,-29.5;29.3,-29;28.5,-30.5;27.8,-30.5',
'Swaziland':'31,-26;32,-26;32,-27.2;31,-27',
'Madagascar':'49.3,-12;50.4,-15.7;47,-25;45,-25.5;43.5,-23;44.5,-16.5;47.5,-15'
};
const worldGeo = {type:'FeatureCollection',features:countries.map(function(n){
  return {type:'Feature',properties:{name:n},geometry:{type:'MultiPolygon',
    coordinates:shapes[n].split('|').map(function(part){
      var ring=part.split(';').map(function(p){return p.split(',').map(Number)});
      ring.push(ring[0]);return [ring];
    })}};
})};

// ---------- layout ----------
const colours = ['#E6D06C','#FF8C42','#F03A32','#B82C44','#8F3C50','#74604F','#6B6B55','#64445A','#552B55','#431848','#320C3E','#25103F','#1B1450'];
const mapSize = 312.5;
const cx = [172.5,519.5,172.5,519.5,172.5,519.5];
const cy = [95.4,95.4,247.7,247.7,401.4,401.4];
const titleX = [177,507.5,174.5,515,175,515];
const titleY = [7.5,7.5,160,160,313,313];
const stripY = [[0,14.5],[0,14.5],[152,168.7],[152,168.7],[304.7,321],[304.7,321]];
const stripX = [[0,345],[345,691],[0,345],[345,691],[0,345],[345,691]];

// each panel needs its own registered name: ECharts merges map series sharing one map
panelTitles.forEach(function(t,i){echarts.registerMap('world'+i,worldGeo)});
const chart = echarts.init(document.getElementById('c'),null,{renderer:'canvas'});
const axisBase = {type:'value',min:-180,max:180,axisLine:{show:false},splitLine:{show:false}};
chart.setOption({
  animation:false,
  backgroundColor:'#fff',
  graphic:panelTitles.map(function(t,i){return {type:'rect',z:-1,silent:true,
    shape:{x:stripX[i][0],y:stripY[i][0],width:stripX[i][1]-stripX[i][0],height:stripY[i][1]-stripY[i][0]},
    style:{fill:'#F2F2F2'}}}).concat([{type:'text',silent:true,x:345.5,y:496,
    style:{text:legendTitle,fill:'#000',font:'bold 8.6px "Liberation Sans"',textAlign:'center',textVerticalAlign:'middle'}}]),
  title:panelTitles.map(function(t,i){return {text:t,left:titleX[i],top:titleY[i],textAlign:'center',textVerticalAlign:'middle',padding:0,
    textStyle:{fontFamily:'Liberation Sans',fontSize:12.7,fontWeight:'normal',color:'#1a1a1a'}}}),
  visualMap:{type:'continuous',min:0,max:60,orient:'horizontal',left:298.5,top:507,itemWidth:10,itemHeight:93,padding:0,
    calculable:false,text:null,showLabel:false,seriesIndex:[0,1,2,3,4,5],inRange:{color:colours},hoverLink:false,textStyle:{fontSize:0}},
  grid:[
    {left:cx[4]-mapSize/2,width:mapSize,top:457,height:1},
    {left:cx[5]-mapSize/2,width:mapSize,top:457,height:1},
    {left:298.5,width:93,top:507,height:10}
  ],
  yAxis:[0,1,2].map(function(i){return {gridIndex:i,show:false}}),
  xAxis:[0,1].map(function(i){return Object.assign({},axisBase,{gridIndex:i,position:'bottom',
    axisTick:{show:true,customValues:lonTicks,length:2,lineStyle:{color:'#999',width:0.5}},
    axisLabel:{customValues:lonTicks,fontSize:6,color:'#6e6e6e',margin:2,fontFamily:'Liberation Sans',
      formatter:function(v){return lonTickLabels[lonTicks.indexOf(v)]||''}}})}).concat([
    {type:'value',gridIndex:2,min:legendTicks[0],max:legendTicks[legendTicks.length-1],interval:10,z:20,
     axisLine:{show:false},splitLine:{show:false},
     axisTick:{show:true,inside:true,length:2,lineStyle:{color:'#fff',width:0.5}},
     axisLabel:{fontSize:8.7,color:'#333',margin:3.5,fontFamily:'Liberation Sans'}}
  ]),
  series:panelValues.map(function(vals,i){return {
    type:'map',map:'world'+i,silent:true,roam:false,aspectScale:1,
    boundingCoords:[[-180,90],[180,-90]],
    layoutCenter:[cx[i],cy[i]],layoutSize:mapSize,
    showLegendSymbol:false,selectedMode:false,label:{show:false},
    itemStyle:{borderColor:'#fff',borderWidth:0.6,areaColor:'#eee'},
    emphasis:{disabled:true},
    data:countries.map(function(n,k){return {name:n,value:vals[k]}})
  }})
});
</script></body></html>
